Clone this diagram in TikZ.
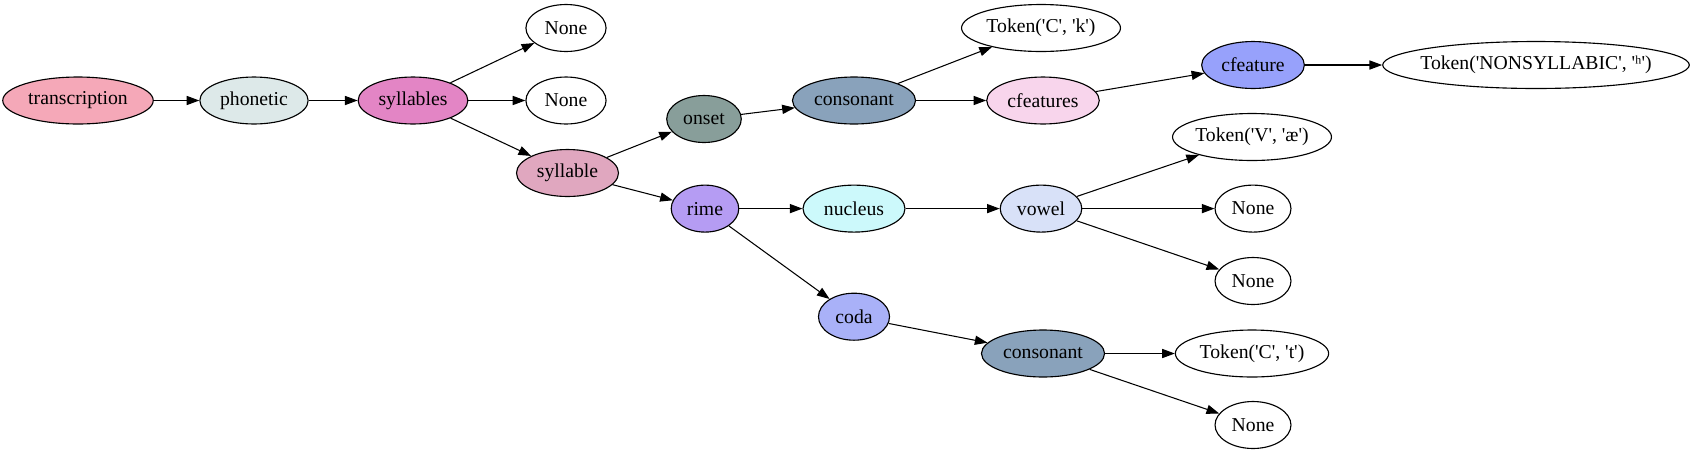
\documentclass[tikz,border=0pt]{standalone}
\usepackage{fontspec}
\setmainfont{Liberation Serif}[Ligatures=TeXOff]
\usetikzlibrary{shapes.geometric,arrows.meta}

\definecolor{cTranscription}{HTML}{F5A8B8}
\definecolor{cPhonetic}{HTML}{DDE9E9}
\definecolor{cSyllables}{HTML}{E385C5}
\definecolor{cSyllable}{HTML}{E0A7BF}
\definecolor{cOnset}{HTML}{889E9A}
\definecolor{cConsonant}{HTML}{89A2BB}
\definecolor{cCfeatures}{HTML}{F8D5EC}
\definecolor{cCfeature}{HTML}{97A1FB}
\definecolor{cRime}{HTML}{B59CF3}
\definecolor{cNucleus}{HTML}{CCF9FB}
\definecolor{cVowel}{HTML}{D8E1F8}
\definecolor{cCoda}{HTML}{A9B1F8}

\begin{document}
\begin{tikzpicture}[x=0.711pt, y=-0.711pt,
    tnode/.style={ellipse, draw=black, thick, inner sep=0pt, minimum height=33.4pt,
        font=\fontsize{14}{16}\selectfont},
    ttoken/.style={tnode, inner xsep=-18pt},
    tedge/.style={-{Triangle[length=9pt,width=6.5pt]}, line width=0.75pt}]
    \useasboundingbox (0,0) rectangle (1695,455);

    % Wurzel und Silben
    \node[tnode, fill=cTranscription, minimum width=107pt] (transcription) at (78,100.5) {transcription};
    \node[tnode, fill=cPhonetic, minimum width=77pt] (phonetic) at (254,100.5) {phonetic};
    \node[tnode, fill=cSyllables, minimum width=78pt] (syllables) at (413,100.5) {syllables};
    \node[tnode, minimum width=57pt] (none1) at (566,28) {None};
    \node[tnode, minimum width=57pt] (none2) at (566,100.5) {None};
    \node[tnode, fill=cSyllable, minimum width=72.5pt] (syllable) at (567.5,173) {syllable};

    % Onset
    \node[tnode, fill=cOnset, minimum width=53pt] (onset) at (704,119) {onset};
    \node[tnode, fill=cConsonant, minimum width=87.5pt] (consonant1) at (854,100.5) {consonant};
    \node[ttoken, minimum width=113pt] (tokck) at (1041,28) {Token('C', 'k')};
    \node[tnode, fill=cCfeatures, minimum width=80pt] (cfeatures) at (1043,100.5) {cfeatures};
    \node[tnode, fill=cCfeature, minimum width=73pt] (cfeature) at (1253,65) {cfeature};
    \node[ttoken, minimum width=218pt] (toknon) at (1536,65) {Token('NONSYLLABIC', 'ʰ')};

    % Reim
    \node[tnode, fill=cRime, minimum width=48pt] (rime) at (705,208.6) {rime};
    \node[tnode, fill=cNucleus, minimum width=72.5pt] (nucleus) at (854,208.6) {nucleus};
    \node[tnode, fill=cVowel, minimum width=58pt] (vowel) at (1041,208.6) {vowel};
    \node[ttoken, minimum width=113pt] (tokvae) at (1252,137) {Token('V', 'æ')};
    \node[tnode, minimum width=54pt] (none3) at (1253,208.6) {None};
    \node[tnode, minimum width=54pt] (none4) at (1253,281) {None};

    % Coda
    \node[tnode, fill=cCoda, minimum width=50.5pt] (coda) at (854,316.7) {coda};
    \node[tnode, fill=cConsonant, minimum width=87.5pt] (consonant2) at (1043,353.5) {consonant};
    \node[ttoken, minimum width=109pt] (tokct) at (1252,353.5) {Token('C', 't')};
    \node[tnode, minimum width=54pt] (none5) at (1253,425) {None};

    % Kanten
    \draw[tedge] (transcription) -- (phonetic);
    \draw[tedge] (phonetic) -- (syllables);
    \draw[tedge] (syllables) -- (none1);
    \draw[tedge] (syllables) -- (none2);
    \draw[tedge] (syllables) -- (syllable);
    \draw[tedge] (syllable) -- (onset);
    \draw[tedge] (syllable) -- (rime);
    \draw[tedge] (onset) -- (consonant1);
    \draw[tedge] (consonant1) -- (tokck);
    \draw[tedge] (consonant1) -- (cfeatures);
    \draw[tedge] (cfeatures) -- (cfeature);
    \draw[tedge] (cfeature) -- (toknon);
    \draw[tedge] (rime) -- (nucleus);
    \draw[tedge] (rime) -- (coda);
    \draw[tedge] (nucleus) -- (vowel);
    \draw[tedge] (vowel) -- (tokvae);
    \draw[tedge] (vowel) -- (none3);
    \draw[tedge] (vowel) -- (none4);
    \draw[tedge] (coda) -- (consonant2);
    \draw[tedge] (consonant2) -- (tokct);
    \draw[tedge] (consonant2) -- (none5);
\end{tikzpicture}
\end{document}
